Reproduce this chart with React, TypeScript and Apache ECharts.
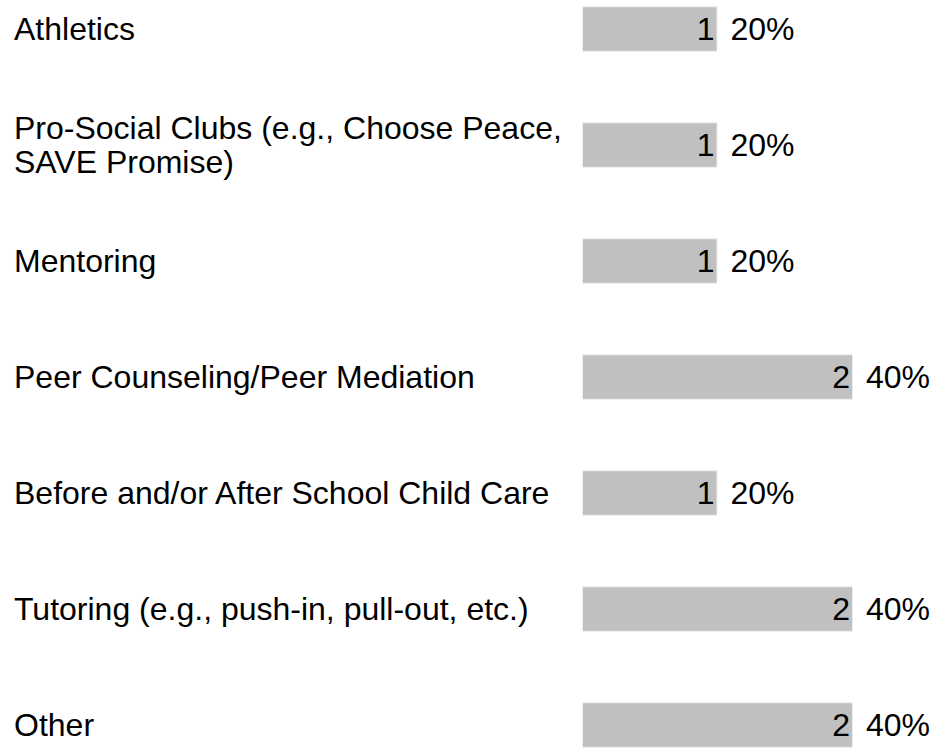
import React, { useEffect, useRef } from "react";
import * as echarts from "echarts";

const categories = [
  "Athletics",
  "Pro-Social Clubs (e.g., Choose Peace,\nSAVE Promise)",
  "Mentoring",
  "Peer Counseling/Peer Mediation",
  "Before and/or After School Child Care",
  "Tutoring (e.g., push-in, pull-out, etc.)",
  "Other",
];
const counts = [1, 1, 1, 2, 1, 2, 2];
const percents = ["20%", "20%", "20%", "40%", "20%", "40%", "40%"];

const FONT = "'Liberation Sans', Arial, Helvetica, sans-serif";

export default function App() {
  const ref = useRef<HTMLDivElement>(null);
  useEffect(() => {
    if (!ref.current) return;
    const chart = echarts.init(ref.current, undefined, { renderer: "svg" });
    chart.setOption({
      animation: false,
      backgroundColor: "#ffffff",
      grid: { left: 582, right: 15.25, top: 0, bottom: 0, containLabel: false },
      xAxis: {
        type: "value",
        min: 0,
        max: 2.5,
        show: false,
      },
      yAxis: {
        type: "category",
        data: categories,
        inverse: true,
        axisLine: { show: false },
        axisTick: { show: false },
        splitLine: { show: false },
        axisLabel: {
          align: "left",
          margin: 568,
          color: "#000",
          fontSize: 32,
          fontFamily: FONT,
          lineHeight: 34,
        },
      },
      series: [
        {
          type: "bar",
          data: counts,
          barWidth: 45.5,
          itemStyle: { color: "#c0c0c0", borderColor: "#eeeeee", borderWidth: 1 },
          label: {
            show: true,
            position: "insideRight",
            distance: 3,
            color: "#000",
            fontSize: 32,
            fontFamily: FONT,
            formatter: (p: any) => String(p.value),
          },
          silent: true,
        },
        {
          type: "bar",
          data: counts,
          barWidth: 45.5,
          barGap: "-100%",
          itemStyle: { color: "rgba(0,0,0,0)" },
          label: {
            show: true,
            position: "right",
            distance: 13,
            color: "#000",
            fontSize: 32,
            fontFamily: FONT,
            formatter: (p: any) => percents[p.dataIndex],
          },
          silent: true,
        },
      ],
    });
    return () => chart.dispose();
  }, []);
  return (
    <div
      ref={ref}
      style={{ position: "absolute", left: 0, top: -29.5, width: 936, height: 812.4 }}
    />
  );
}
